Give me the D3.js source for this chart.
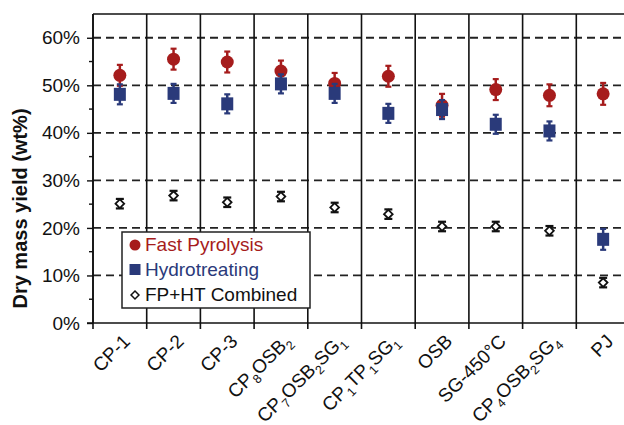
<!DOCTYPE html>
<meta charset="utf-8">
<style>
  body { margin: 0; background: #fff; }
  text { font-family: "Liberation Sans", Arial, sans-serif; }
</style>
<script src="https://d3js.org/d3.v7.min.js"></script>
<svg id="chart" width="624" height="425"></svg>
<script>

// categories (underscore + digit = subscript)
var categories = ["CP-1", "CP-2", "CP-3", "CP_8OSB_2", "CP_7OSB_2SG_1", "CP_1TP_1SG_1",
                  "OSB", "SG-450°C", "CP_4OSB_2SG_4", "PJ"];

// values in wt%
var fastPyrolysis   = [52.1, 55.5, 54.9, 53.0, 50.4, 51.9, 45.8, 49.1, 47.9, 48.2];
var fpError         = [2.2, 2.2, 2.2, 2.2, 2.2, 2.2, 2.4, 2.2, 2.3, 2.3];
var hydrotreating   = [48.1, 48.3, 46.1, 50.3, 48.3, 44.1, 44.9, 41.8, 40.4, 17.6];
var htError         = [2.1, 2.0, 2.0, 2.0, 2.0, 2.0, 2.0, 2.0, 2.0, 2.2];
var combined        = [25.1, 26.8, 25.4, 26.6, 24.3, 22.9, 20.3, 20.3, 19.4, 8.5];
var combError       = [1.0, 1.0, 1.0, 1.0, 1.0, 1.0, 1.0, 1.0, 1.0, 1.0];

var yTicks = [0, 10, 20, 30, 40, 50, 60];
var yMinor = [5, 15, 25, 35, 45, 55];

var red = "#a61c1c", navy = "#2a3a7a";

var svg = d3.select("#chart"),
    width = +svg.attr("width"),
    height = +svg.attr("height");

var plotLeft = 93, plotTop = 14, plotBottom = 323, band = 53.7;

var x = d3.scaleBand()
  .domain(categories)
  .range([plotLeft, plotLeft + band * categories.length])
  .padding(0);

var y = d3.scaleLinear()
  .domain([0, 65])
  .range([plotBottom, plotTop]);

// dashed grid
svg.append("g").selectAll("line")
  .data(yTicks.filter(function(d) { return d > 0; }))
  .enter().append("line")
    .attr("x1", plotLeft).attr("x2", width)
    .attr("y1", function(d) { return y(d); })
    .attr("y2", function(d) { return y(d); })
    .attr("stroke", "#222")
    .attr("stroke-width", 1.8)
    .attr("stroke-dasharray", "8,5");

// category separators (with tick below axis)
svg.append("g").selectAll("line")
  .data(categories)
  .enter().append("line")
    .attr("x1", function(d) { return x(d); })
    .attr("x2", function(d) { return x(d); })
    .attr("y1", plotTop).attr("y2", plotBottom + 6)
    .attr("stroke", "#111")
    .attr("stroke-width", 1.6);

// top border
svg.append("line")
  .attr("x1", plotLeft).attr("x2", width)
  .attr("y1", plotTop).attr("y2", plotTop)
  .attr("stroke", "#111").attr("stroke-width", 1.6);

// bottom axis line
svg.append("line")
  .attr("x1", plotLeft - 6).attr("x2", width)
  .attr("y1", plotBottom).attr("y2", plotBottom)
  .attr("stroke", "#111").attr("stroke-width", 1.6);

// y axis
var yAxis = svg.append("g")
  .attr("transform", "translate(" + plotLeft + ",0)")
  .call(d3.axisLeft(y).tickValues(yTicks).tickSize(6).tickSizeOuter(0)
          .tickFormat(function(d) { return d + "%"; }));
yAxis.select(".domain").attr("stroke", "#111").attr("stroke-width", 1.6)
  .attr("d", "M0," + plotTop + "V" + plotBottom);
yAxis.selectAll(".tick line").attr("stroke", "#111").attr("stroke-width", 1.4);
yAxis.selectAll(".tick text")
  .attr("x", -13)
  .style("font-size", "19px")
  .attr("fill", "#111");

svg.append("g").selectAll("line")
  .data(yMinor)
  .enter().append("line")
    .attr("x1", plotLeft - 4).attr("x2", plotLeft)
    .attr("y1", function(d) { return y(d); })
    .attr("y2", function(d) { return y(d); })
    .attr("stroke", "#111").attr("stroke-width", 1.4);

// y title
svg.append("text")
  .attr("transform", "translate(27," + ((plotTop + plotBottom) / 2 + 40) + ") rotate(-90)")
  .attr("text-anchor", "middle")
  .style("font-size", "20px")
  .style("font-weight", "bold")
  .attr("fill", "#111")
  .text("Dry mass yield (wt%)");

// x labels with subscripts
var xl = svg.append("g").selectAll("text")
  .data(categories)
  .enter().append("text")
    .attr("transform", function(d) {
      return "translate(" + (x(d) + x.bandwidth() / 2 + 2) + "," + (plotBottom + 10) + ") rotate(-45)";
    })
    .attr("text-anchor", "end")
    .attr("dy", "0.7em")
    .style("font-size", "19px")
    .attr("fill", "#111");

xl.each(function(d) {
  var t = d3.select(this);
  var parts = d.split(/(_\d)/).filter(function(p) { return p.length; });
  var sub = false;
  parts.forEach(function(p) {
    if (p[0] === "_") {
      t.append("tspan").attr("dy", 5).style("font-size", "12.5px").text(p.slice(1));
      sub = true;
    } else {
      var ts = t.append("tspan").text(p);
      if (sub) { ts.attr("dy", -5); sub = false; }
    }
  });
});

// error bars
function errorBars(vals, errs, color, w, cap) {
  var g = svg.append("g");
  var cx = function(i) { return x(categories[i]) + x.bandwidth() / 2; };
  vals.forEach(function(v, i) {
    g.append("line")
      .attr("x1", cx(i)).attr("x2", cx(i))
      .attr("y1", y(v - errs[i])).attr("y2", y(v + errs[i]))
      .attr("stroke", color).attr("stroke-width", w);
    [v - errs[i], v + errs[i]].forEach(function(e) {
      g.append("line")
        .attr("x1", cx(i) - cap).attr("x2", cx(i) + cap)
        .attr("y1", y(e)).attr("y2", y(e))
        .attr("stroke", color).attr("stroke-width", 2.2);
    });
  });
}

function center(d, i) { return x(categories[i]) + x.bandwidth() / 2; }

// fast pyrolysis
errorBars(fastPyrolysis, fpError, red, 2.5, 3);
svg.append("g").selectAll("circle")
  .data(fastPyrolysis)
  .enter().append("circle")
    .attr("cx", center)
    .attr("cy", function(d) { return y(d); })
    .attr("r", 6.5)
    .attr("fill", red);

// hydrotreating
errorBars(hydrotreating, htError, navy, 2.5, 3);
svg.append("g").selectAll("rect")
  .data(hydrotreating)
  .enter().append("rect")
    .attr("x", function(d, i) { return center(d, i) - 6; })
    .attr("y", function(d) { return y(d) - 6.5; })
    .attr("width", 12).attr("height", 13)
    .attr("fill", navy);

// combined
errorBars(combined, combError, "#111", 3.5, 4);
var diamond = d3.symbol().type(d3.symbolDiamond2).size(48);
svg.append("g").selectAll("path")
  .data(combined)
  .enter().append("path")
    .attr("d", diamond)
    .attr("transform", function(d, i) { return "translate(" + center(d, i) + "," + y(d) + ")"; })
    .attr("fill", "#fff")
    .attr("stroke", "#111")
    .attr("stroke-width", 1.8);

// legend
var lg = svg.append("g").attr("transform", "translate(122,232)");
lg.append("rect")
  .attr("width", 188).attr("height", 76)
  .attr("fill", "#fff").attr("stroke", "#222").attr("stroke-width", 1.5);

var legendItems = ["Fast Pyrolysis", "Hydrotreating", "FP+HT Combined"];
var legendColors = [red, navy, "#111"];

lg.append("circle").attr("cx", 13).attr("cy", 13).attr("r", 5.5).attr("fill", red);
lg.append("rect").attr("x", 7.5).attr("y", 32).attr("width", 11).attr("height", 11).attr("fill", navy);
lg.append("path")
  .attr("d", d3.symbol().type(d3.symbolDiamond2).size(40))
  .attr("transform", "translate(13,63)")
  .attr("fill", "#fff").attr("stroke", "#111").attr("stroke-width", 1.5);

lg.selectAll("text.item")
  .data(legendItems)
  .enter().append("text")
    .attr("class", "item")
    .attr("x", 23)
    .attr("y", function(d, i) { return 19 + i * 25; })
    .style("font-size", "19px")
    .attr("fill", function(d, i) { return legendColors[i]; })
    .text(function(d) { return d; });

</script>
